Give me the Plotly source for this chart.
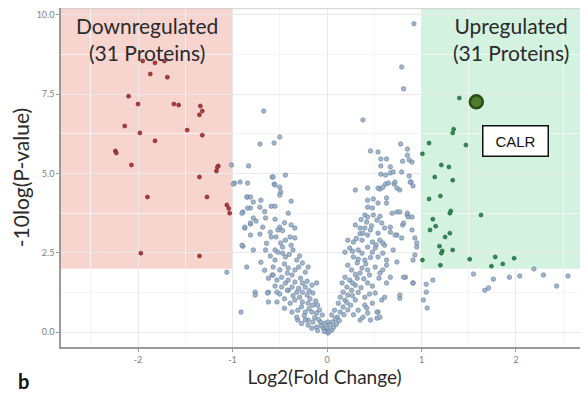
import plotly.graph_objects as go

# ---------------- data ----------------
gray_pts = [
    # upper scattered
    (0.92, 9.72), (0.79, 8.36), (0.81, 7.67), (0.38, 6.69), (-0.67, 6.97), (-0.50, 6.15),
    (-0.71, 5.93), (-0.56, 5.96), (-1.01, 5.27), (-0.83, 5.24), (-0.58, 4.89), (-0.44, 4.95),
    (-0.56, 4.67), (-0.84, 4.26),
    (0.46, 5.71), (0.54, 5.68), (0.78, 5.93), (0.85, 5.77), (0.85, 5.58), (0.87, 5.43),
    (0.90, 5.36), (0.80, 5.39), (0.57, 5.46), (0.63, 5.46), (0.57, 5.24), (0.67, 5.21),
    (0.57, 4.98), (0.62, 4.95), (0.67, 5.02), (0.70, 5.05), (0.79, 5.05), (0.87, 4.92),
    (0.89, 4.73), (0.91, 4.61), (0.62, 4.67), (0.71, 4.67), (0.56, 4.51), (0.77, 4.48),
    # left arm
    (-0.98, 4.70), (-0.92, 4.73), (-0.57, 4.89), (-0.55, 4.64), (-0.50, 4.57), (-0.49, 4.42),
    (-0.50, 4.32), (-0.81, 4.26), (-0.78, 4.10), (-0.70, 4.16), (-0.59, 3.97), (-0.55, 3.97),
    (-0.38, 4.13), (-0.81, 3.91), (-0.71, 3.94), (-0.89, 3.79), (-0.41, 3.75), (-0.78, 3.60),
    (-0.75, 3.50), (-0.65, 3.60), (-0.55, 3.56), (-0.81, 3.41), (-0.87, 3.28), (-0.68, 3.31),
    (-0.50, 3.31), (-0.52, 3.22), (-0.38, 3.38), (-0.34, 3.28), (-0.81, 3.06), (-0.71, 3.09),
    (-0.59, 3.00), (-0.54, 3.00), (-0.39, 3.00), (-0.44, 2.90), (-0.49, 2.81), (-0.34, 2.97),
    (-0.89, 2.71), (-0.78, 2.59), (-0.65, 2.59), (-0.55, 2.59), (-0.47, 2.68), (-0.38, 2.74),
    (-0.36, 2.59), (-0.52, 2.52), (-0.47, 2.49), (-0.55, 2.27), (-0.44, 2.37), (-0.32, 2.27),
    (-0.26, 2.18), (-0.20, 2.05), (-0.57, 2.05), (-0.50, 1.96), (-0.41, 2.02), (-0.34, 1.96),
    (-0.23, 1.89), (-0.58, 1.80), (-0.48, 1.73), (-0.41, 1.64), (-0.34, 1.58), (-0.26, 1.55),
    (-0.44, 1.55), (-0.37, 1.42), (-0.23, 1.42), (-0.16, 1.48), (-0.11, 1.55), (-0.62, 1.26),
    (-0.53, 1.26), (-0.41, 1.32), (-0.32, 1.26), (-0.26, 1.26), (-0.21, 1.17), (-0.15, 1.23),
    (-0.62, 0.95), (-0.53, 0.95), (-0.34, 1.01), (-0.26, 0.95), (-0.20, 0.91), (-0.15, 0.85),
    (-0.10, 0.85), (-0.37, 0.63), (-0.31, 0.69), (-0.23, 0.63), (-0.16, 0.63), (-0.11, 0.60),
    (-0.05, 0.54), (-0.31, 0.38), (-0.20, 0.38), (-0.15, 0.32), (-0.07, 0.32), (-0.02, 0.28),
    (-0.20, 0.22), (-0.11, 0.16), (-0.04, 0.13), (0.00, 0.06), (0.01, -0.03),
    (-0.91, 0.63), (-0.76, 1.26), (-0.76, 1.17), (-0.85, 2.05), (-0.90, 2.74), (-0.63, 1.23),
    (-0.39, 0.91), (-0.32, 0.47), (-0.23, 0.38), (-0.62, 1.70), (-0.57, 1.80), (-0.53, 1.64),
    (-0.42, 1.86), (-0.48, 1.42), (-0.42, 1.32), (-0.99, 4.67), (-0.84, 4.70), (-0.85, 4.26),
    (-0.90, 3.75), (-0.84, 3.91), (-0.87, 3.31), (-0.81, 3.44), (-1.06, 1.89),
    # extra density, lower left arm
    (-0.29, 1.10), (-0.18, 1.05), (-0.12, 0.98), (-0.27, 0.80), (-0.19, 0.74), (-0.08, 0.70),
    (-0.24, 0.52), (-0.13, 0.46), (-0.09, 0.40), (-0.27, 0.27), (-0.16, 0.12), (-0.06, 0.20),
    (-0.10, 0.05), (-0.03, 0.02), (-0.36, 1.15), (-0.45, 1.05), (-0.30, 1.38), (-0.19, 1.30),
    (-0.28, 1.70), (-0.21, 1.60), (-0.37, 1.80), (-0.30, 2.05), (-0.45, 2.15), (-0.40, 2.45),
    (-0.29, 2.40), (-0.60, 2.40), (-0.64, 2.80), (-0.60, 3.15), (-0.45, 3.45), (-0.66, 3.80),
    (-0.47, 3.20), (-0.70, 2.20), (-0.66, 1.95), (-0.50, 1.20), (-0.45, 0.75), (-0.55, 1.45),
    # right arm
    (0.00, 0.13), (0.03, 0.22), (0.06, 0.32), (0.01, 0.32), (0.11, 0.47), (0.05, 0.54),
    (0.14, 0.63), (0.08, 0.69), (0.17, 0.79), (0.12, 0.91), (0.19, 1.01), (0.14, 1.10),
    (0.22, 1.17), (0.17, 1.26), (0.26, 1.32), (0.21, 1.42), (0.30, 1.48), (0.16, 1.55),
    (0.24, 1.64), (0.32, 1.70), (0.19, 1.73), (0.35, 1.86), (0.26, 1.96), (0.37, 2.02),
    (0.22, 2.11), (0.32, 2.18), (0.40, 2.27), (0.28, 2.37), (0.37, 2.49), (0.48, 2.52),
    (0.54, 2.37), (0.59, 2.49), (0.43, 1.96), (0.51, 2.05), (0.56, 1.86), (0.63, 2.11),
    (0.43, 1.55), (0.51, 1.23), (0.58, 1.01), (0.63, 1.55), (0.40, 1.10), (0.48, 0.91),
    (0.33, 0.69), (0.38, 0.47), (0.46, 0.38), (0.53, 0.44), (0.54, 0.63), (0.77, 1.07),
    (0.35, 0.38), (0.30, 1.01), (0.05, 0.06),
    # extra density, lower right arm
    (0.02, 0.02), (0.07, 0.15), (0.10, 0.25), (0.13, 0.36), (0.09, 0.42), (0.18, 0.55),
    (0.22, 0.70), (0.25, 0.85), (0.21, 0.93), (0.27, 1.15), (0.33, 1.25), (0.36, 1.40),
    (0.27, 1.55), (0.39, 1.68), (0.30, 1.82), (0.45, 1.80), (0.41, 2.15), (0.46, 2.35),
    (0.33, 2.30), (0.27, 2.55), (0.52, 2.75), (0.31, 2.95), (0.35, 3.10), (0.47, 3.35),
    (0.36, 3.55), (0.56, 3.65), (0.48, 1.45), (0.55, 1.70), (0.45, 1.20), (0.40, 0.85),
    (0.28, 0.55), (0.43, 0.60),
    (0.30, 4.48), (0.43, 4.54), (0.54, 4.54), (0.59, 4.57), (0.65, 4.70), (0.72, 4.73),
    (0.74, 4.54), (0.88, 4.73), (0.43, 4.16), (0.49, 4.20), (0.54, 4.07), (0.63, 4.23),
    (0.63, 4.07), (0.43, 3.94), (0.48, 3.91), (0.40, 3.69), (0.43, 3.63), (0.49, 3.69),
    (0.69, 3.75), (0.74, 3.79), (0.85, 3.69), (0.86, 3.63), (0.42, 3.47), (0.53, 3.53),
    (0.58, 3.44), (0.80, 3.38), (0.30, 3.38), (0.35, 3.28), (0.40, 3.28), (0.46, 3.22),
    (0.61, 3.28), (0.67, 3.15), (0.38, 3.12), (0.43, 3.06), (0.54, 3.12), (0.74, 3.06),
    (0.79, 2.97), (0.90, 3.22), (0.93, 2.97), (0.22, 2.90), (0.28, 2.84), (0.37, 2.90),
    (0.48, 2.84), (0.56, 2.90), (0.61, 2.74), (0.43, 2.68), (0.51, 2.65), (0.24, 2.65),
    (0.33, 2.59), (0.95, 2.68), (0.19, 2.52),
    (0.77, 3.79), (0.85, 3.75), (0.90, 3.63), (0.91, 2.27), (0.83, 1.73), (0.91, 1.55),
    (0.77, 1.17), (0.61, 1.10), (0.53, 0.63), (0.56, 0.47), (0.42, 0.76), (0.67, 3.31),
    (0.72, 3.06), (0.59, 2.81), (0.70, 2.59), (0.63, 2.27), (0.74, 2.21), (0.59, 1.96),
    (0.67, 1.73), (0.81, 3.44), (0.95, 2.81), (0.93, 2.43),
    # right, below threshold
    (1.55, 1.83), (1.76, 1.67), (1.93, 1.73), (2.04, 1.77), (2.19, 1.99), (2.29, 1.80),
    (2.43, 1.45), (2.55, 1.77), (1.67, 1.32), (1.71, 1.39), (1.12, 1.64), (1.05, 1.51),
    (1.05, 1.26), (1.02, 1.01), (1.06, 0.76), (0.91, 1.55), (0.81, 1.73),
]

down_x = [-1.95, -1.82, -1.72, -1.87, -1.69, -2.10, -2.00, -1.62, -1.57, -1.34, -1.32,
          -1.35, -2.14, -1.98, -1.48, -1.32, -1.82, -2.24, -2.23, -2.07, -1.15, -1.17,
          -1.35, -1.90, -1.27, -1.06, -1.03, -1.97, -1.35, -1.16, -1.04]
down_y = [8.55, 8.49, 8.55, 8.14, 8.04, 7.44, 7.19, 7.19, 7.16, 7.13, 6.97,
          6.85, 6.50, 6.28, 6.37, 6.21, 6.03, 5.71, 5.65, 5.27, 5.24, 5.08,
          4.89, 4.26, 4.26, 4.01, 3.75, 2.49, 2.40, 5.20, 3.90]

up_x = [1.40, 1.34, 1.33, 1.08, 1.47, 1.01, 1.21, 1.29, 1.14, 1.33, 1.20,
        1.08, 1.31, 1.30, 1.63, 1.12, 1.15, 1.09, 1.30, 1.25, 1.19, 1.22,
        1.21, 1.33, 1.01, 1.51, 1.78, 1.98, 1.20, 1.74, 1.86]
up_y = [7.38, 6.40, 6.28, 5.96, 5.90, 5.62, 5.27, 5.21, 4.89, 4.79, 4.29,
        4.20, 3.82, 3.75, 3.69, 3.56, 3.34, 3.22, 3.12, 3.00, 2.71, 2.56,
        2.49, 2.59, 2.27, 2.30, 2.37, 2.33, 2.11, 2.08, 2.15]

calr_x = [1.58]
calr_y = [7.26]

gray_x = [p[0] for p in gray_pts]
gray_y = [p[1] for p in gray_pts]

x_ticks = [-2, -1, 0, 1, 2]
y_ticks = [0.0, 2.5, 5.0, 7.5, 10.0]
y_tick_text = ["0.0", "2.5", "5.0", "7.5", "10.0"]

X_MIN, X_MAX = -2.815, 2.762
Y_MIN, Y_MAX = -0.47, 10.22
FC_CUT, P_CUT = 1.0, 2.0

fig = go.Figure()

fig.add_trace(go.Scatter(
    x=gray_x, y=gray_y, mode="markers",
    marker=dict(size=4.5, color="rgba(145,170,198,0.85)",
                line=dict(color="rgba(95,119,147,0.9)", width=0.6)),
    showlegend=False, hoverinfo="skip"))
fig.add_trace(go.Scatter(
    x=down_x, y=down_y, mode="markers",
    marker=dict(size=4, color="#b03a3a", line=dict(color="#6e1f1f", width=0.6)),
    showlegend=False))
fig.add_trace(go.Scatter(
    x=up_x, y=up_y, mode="markers",
    marker=dict(size=4, color="#2f8a55", line=dict(color="#1d5a36", width=0.6)),
    showlegend=False))
fig.add_trace(go.Scatter(
    x=calr_x, y=calr_y, mode="markers",
    marker=dict(size=13, color="#4b7d2c", line=dict(color="#2a4d14", width=2.5)),
    showlegend=False))

# shaded regions
fig.add_shape(type="rect", x0=X_MIN, x1=-FC_CUT, y0=P_CUT, y1=Y_MAX,
              fillcolor="#f8d4cf", line_width=0, layer="below")
fig.add_shape(type="rect", x0=FC_CUT, x1=X_MAX, y0=P_CUT, y1=Y_MAX,
              fillcolor="#d4f2e0", line_width=0, layer="below")
# top border
fig.add_shape(type="line", xref="paper", yref="paper", x0=0, x1=1, y0=0.998, y1=0.998,
              line=dict(color="#d0d0d0", width=1))

title_font = dict(family="Lato, Open Sans, sans-serif", size=21, color="#2b2b2b")
fig.add_annotation(x=-1.91, y=9.25, text="Downregulated<br>(31 Proteins)",
                   showarrow=False, font=title_font, align="center")
fig.add_annotation(x=1.95, y=9.25, text="Upregulated<br>(31 Proteins)",
                   showarrow=False, font=title_font, align="center")
fig.add_annotation(x=2.0, y=6.03, text="CALR", showarrow=False,
                   font=dict(family="Liberation Sans, Arial, sans-serif", size=15, color="#111"),
                   bgcolor="white", bordercolor="#111", borderwidth=1.5, borderpad=6, width=52)
fig.add_annotation(xref="paper", yref="paper", x=-0.085, y=-0.1, text="<b>b</b>",
                   showarrow=False, xanchor="left", yanchor="middle",
                   font=dict(family="Lato, Open Sans, sans-serif", size=20, color="#111"))

fig.update_xaxes(range=[X_MIN, X_MAX], tickvals=x_ticks, ticktext=[str(v) for v in x_ticks],
                 automargin=False,
                 showgrid=True, gridcolor="#e9e9e9", gridwidth=1,
                 minor=dict(dtick=0.5, tick0=0.5, showgrid=True, gridcolor="#f4f4f4", gridwidth=1),
                 showline=True, linecolor="#9a9a9a", linewidth=1.5,
                 ticks="outside", ticklen=3, tickcolor="#9a9a9a",
                 tickfont=dict(family="Lato, sans-serif", size=9, color="#808080"),
                 zeroline=False,
                 title=dict(text="Log2(Fold Change)", standoff=2,
                            font=dict(family="Lato, Open Sans, sans-serif", size=19, color="#2b2b2b")))
fig.update_yaxes(range=[Y_MIN, Y_MAX], tickvals=y_ticks, ticktext=y_tick_text,
                 automargin=False,
                 showgrid=True, gridcolor="#e9e9e9", gridwidth=1,
                 minor=dict(dtick=1.25, tick0=1.25, showgrid=True, gridcolor="#f4f4f4", gridwidth=1),
                 showline=True, linecolor="#9a9a9a", linewidth=1.5,
                 ticks="outside", ticklen=3, tickcolor="#9a9a9a",
                 tickfont=dict(family="Lato, sans-serif", size=9, color="#808080"),
                 zeroline=False,
                 title=dict(text="-10log(P-value)", standoff=4,
                            font=dict(family="Lato, Open Sans, sans-serif", size=21, color="#2b2b2b")))

# the page adds an 8px body margin, so the figure is 8px smaller and shifted
fig.update_layout(width=580, height=386, margin=dict(l=53, r=0, t=0, b=47),
                  plot_bgcolor="white", paper_bgcolor="white", showlegend=False)

fig.write_html("out.html")
